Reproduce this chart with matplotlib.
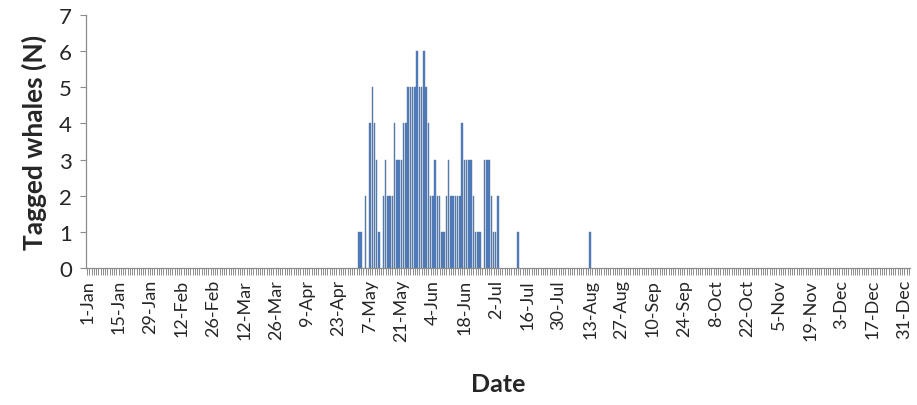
import matplotlib
matplotlib.use("Agg")

import numpy as np
import matplotlib.pyplot as plt

# =========================
# Data (day of year, 0 = 1-Jan) -> number of tagged whales
# =========================
N_DAYS = 365
DAYS = [121, 122, 124, 126, 127, 128, 129, 130, 132, 133, 134, 135, 136,
        137, 138, 139, 140, 141, 142, 143, 144, 145, 146, 147, 148, 149,
        150, 151, 152, 153, 154, 155, 156, 157, 158, 159, 160, 161, 162,
        163, 164, 165, 166, 167, 168, 169, 170, 171, 172, 173, 174, 175,
        177, 178, 179, 180, 181, 182, 183, 192, 224]
COUNTS = [1, 1, 2, 4, 5, 4, 3, 1, 2, 3, 2, 2, 2,
          4, 3, 3, 3, 4, 4, 5, 5, 5, 5, 6, 5, 5,
          6, 5, 4, 2, 2, 3, 2, 2, 1, 1, 2, 3, 2,
          2, 2, 2, 2, 4, 3, 3, 3, 3, 2, 1, 1, 1,
          3, 3, 3, 2, 1, 1, 2, 1, 1]

TICK_LABELS = ["1-Jan", "15-Jan", "29-Jan", "12-Feb", "26-Feb", "12-Mar",
               "26-Mar", "9-Apr", "23-Apr", "7-May", "21-May", "4-Jun",
               "18-Jun", "2-Jul", "16-Jul", "30-Jul", "13-Aug", "27-Aug",
               "10-Sep", "24-Sep", "8-Oct", "22-Oct", "5-Nov", "19-Nov",
               "3-Dec", "17-Dec", "31-Dec"]
TICK_STEP = 14

# =========================
# Style
# =========================
plt.rcParams["font.family"] = ["Lato", "DejaVu Sans"]
AXIS_GREY = "#8c8c8c"
TEXT_COL = "#262626"
BAR_FILL = "#4a7cc8"
BAR_EDGE = "#5f7790"

counts = np.zeros(N_DAYS)
counts[DAYS] = COUNTS
days = np.arange(N_DAYS)

fig = plt.figure(figsize=(9.17, 4.06), dpi=100)
ax = fig.add_axes([86 / 917, 1 - 269 / 406, 824 / 917, 253 / 406])

nz = counts > 0
ax.bar(days[nz], counts[nz], width=0.65, color=BAR_FILL,
       edgecolor=BAR_EDGE, linewidth=0.3)

ax.set_xlim(-0.5, N_DAYS + 1.5)
ax.set_ylim(0, 7)

for side in ("top", "right"):
    ax.spines[side].set_visible(False)
for side in ("left", "bottom"):
    ax.spines[side].set_color(AXIS_GREY)
    ax.spines[side].set_linewidth(0.9)

# y axis
ax.set_yticks(range(0, 8))
ax.tick_params(axis="y", direction="out", length=4, width=0.8,
               color=AXIS_GREY, labelsize=16, labelcolor=TEXT_COL, pad=6)

# x axis: labels every 14 days, tick marks every day
ax.set_xticks(np.arange(0, N_DAYS, TICK_STEP))
ax.set_xticklabels(TICK_LABELS, rotation=90, ha="center", va="top")
ax.set_xticks(np.arange(N_DAYS + 2), minor=True)
ax.tick_params(axis="x", which="both", direction="out", length=5,
               width=0.7, color=AXIS_GREY)
ax.tick_params(axis="x", which="major", labelsize=13,
               labelcolor=TEXT_COL, pad=3)

ax.set_ylabel("Tagged whales (N)", fontsize=19, fontweight="bold",
              color=TEXT_COL, labelpad=9)
ax.set_xlabel("Date", fontsize=18, fontweight="bold", color=TEXT_COL,
              labelpad=22)

fig.savefig("out.png", dpi=100, facecolor="white")
plt.close(fig)
